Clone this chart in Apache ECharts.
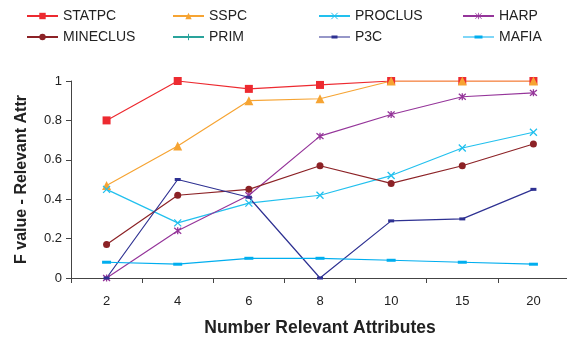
<!DOCTYPE html>
<html>
<head>
<meta charset="utf-8">
<script src="https://cdn.jsdelivr.net/npm/echarts@6/dist/echarts.min.js"></script>
<style>
  html, body { margin: 0; padding: 0; background: #fff; }
  #chart { width: 567px; height: 339px; }
</style>
</head>
<body>
<div id="chart"></div>
<script>
// Number of relevant attributes on the x axis
const categories = ['2', '4', '6', '8', '10', '15', '20'];

// F value of each method per setting
const statpc   = [0.80, 1.00, 0.96, 0.98, 1.00, 1.00, 1.00];
const sspc     = [0.47, 0.67, 0.90, 0.91, 1.00, 1.00, 1.00];
const proclus  = [0.45, 0.28, 0.38, 0.42, 0.52, 0.66, 0.74];
const harp     = [0.00, 0.24, 0.42, 0.72, 0.83, 0.92, 0.94];
const mineclus = [0.17, 0.42, 0.45, 0.57, 0.48, 0.57, 0.68];
const prim     = [null, null, null, null, null, null, null];
const p3c      = [0.00, 0.50, 0.41, 0.00, 0.29, 0.30, 0.45];
const mafia    = [0.08, 0.07, 0.10, 0.10, 0.09, 0.08, 0.07];

const yTicks = [0, 0.2, 0.4, 0.6, 0.8, 1];

const FONT = '"Liberation Sans", Arial, sans-serif';

function lineSeries(name, data, color, symbol, size, stroked) {
  return {
    name: name,
    type: 'line',
    data: data,
    color: color,
    symbol: symbol,
    symbolSize: size,
    showAllSymbol: true,
    connectNulls: false,
    lineStyle: { color: color, width: 1.2 },
    itemStyle: stroked
      ? { color: color, borderColor: color, borderWidth: 1.3 }
      : { color: color, borderWidth: 0 },
    emphasis: { disabled: true },
    animation: false
  };
}

// Marker outlines
const X_PATH = 'path://M0,0L10,10M10,0L0,10';
const STAR_PATH = 'path://M0,0L10,10M10,0L0,10M5,-1L5,11';
const PLUS_PATH = 'path://M5,0L5,10M0,5L10,5';

// Legend swatches: line plus marker drawn as one shape
const P3C_ICON = 'path://M0,0L31,0L31,1.2L0,1.2Z M12.5,-0.9L18.5,-0.9L18.5,2.1L12.5,2.1Z';
const MAFIA_ICON = 'path://M0,0L31,0L31,1.2L0,1.2Z M11.5,-0.9L19.5,-0.9L19.5,2.1L11.5,2.1Z';

const series = [
  lineSeries('STATPC', statpc, '#ED2A30', 'rect', 8, false),
  lineSeries('SSPC', sspc, '#F6A433', 'triangle', 9, false),
  lineSeries('PROCLUS', proclus, '#22C0EE', X_PATH, 7, true),
  lineSeries('HARP', harp, '#95359A', STAR_PATH, 7, true),
  lineSeries('MINECLUS', mineclus, '#8C2226', 'circle', 7, false),
  lineSeries('PRIM', prim, '#2AA39B', PLUS_PATH, 7, true),
  lineSeries('P3C', p3c, '#2E3192', 'rect', [6, 3], false),
  lineSeries('MAFIA', mafia, '#00AEEF', 'rect', [9, 3], false)
];

function legendColumn(left, names) {
  return {
    orient: 'vertical',
    left: left,
    top: 4,
    itemWidth: 31,
    itemHeight: 8,
    itemGap: 7,
    selectedMode: false,
    data: names,
    textStyle: { fontFamily: FONT, fontSize: 14, color: '#222', lineHeight: 14 }
  };
}

const chart = echarts.init(document.getElementById('chart'), null, { renderer: 'canvas' });

chart.setOption({
  animation: false,
  backgroundColor: '#fff',
  legend: [
    legendColumn(21, ['STATPC', 'MINECLUS']),
    legendColumn(167, ['SSPC', { name: 'PRIM', itemStyle: { borderWidth: 1 } }]),
    legendColumn(313, [{ name: 'PROCLUS', itemStyle: { borderWidth: 1 } }, { name: 'P3C', icon: P3C_ICON }]),
    legendColumn(457, [{ name: 'HARP', itemStyle: { borderWidth: 0.8 } }, { name: 'MAFIA', icon: MAFIA_ICON }])
  ],
  grid: { left: 71, top: 81, bottom: 61, width: 498, outerBoundsMode: 'none', containLabel: false },
  xAxis: {
    type: 'category',
    data: categories,
    boundaryGap: true,
    name: 'Number Relevant Attributes',
    nameLocation: 'middle',
    nameGap: 41,
    nameTextStyle: { fontFamily: FONT, fontSize: 17.5, fontWeight: 'bold', color: '#222' },
    axisLine: { lineStyle: { color: '#444', width: 1 } },
    axisTick: { show: true, length: 5, interval: 0, lineStyle: { color: '#444' } },
    axisLabel: { fontFamily: FONT, fontSize: 13, color: '#222', margin: 17, interval: 0 },
    splitLine: { show: false }
  },
  yAxis: {
    type: 'value',
    min: 0,
    max: 1,
    interval: 0.2,
    name: 'F value - Relevant Attr',
    nameLocation: 'middle',
    nameGap: 41,
    nameTextStyle: { fontFamily: FONT, fontSize: 16, fontWeight: 'bold', color: '#222' },
    axisLine: { show: true, lineStyle: { color: '#444', width: 1 } },
    axisTick: { show: true, length: 5, lineStyle: { color: '#444' } },
    axisLabel: {
      fontFamily: FONT, fontSize: 13, color: '#222', margin: 9,
      formatter: function (v) {
        const t = yTicks.find(function (k) { return Math.abs(k - v) < 1e-9; });
        return t === undefined ? '' : String(t);
      }
    },
    splitLine: { show: false }
  },
  series: series
});
</script>
</body>
</html>
